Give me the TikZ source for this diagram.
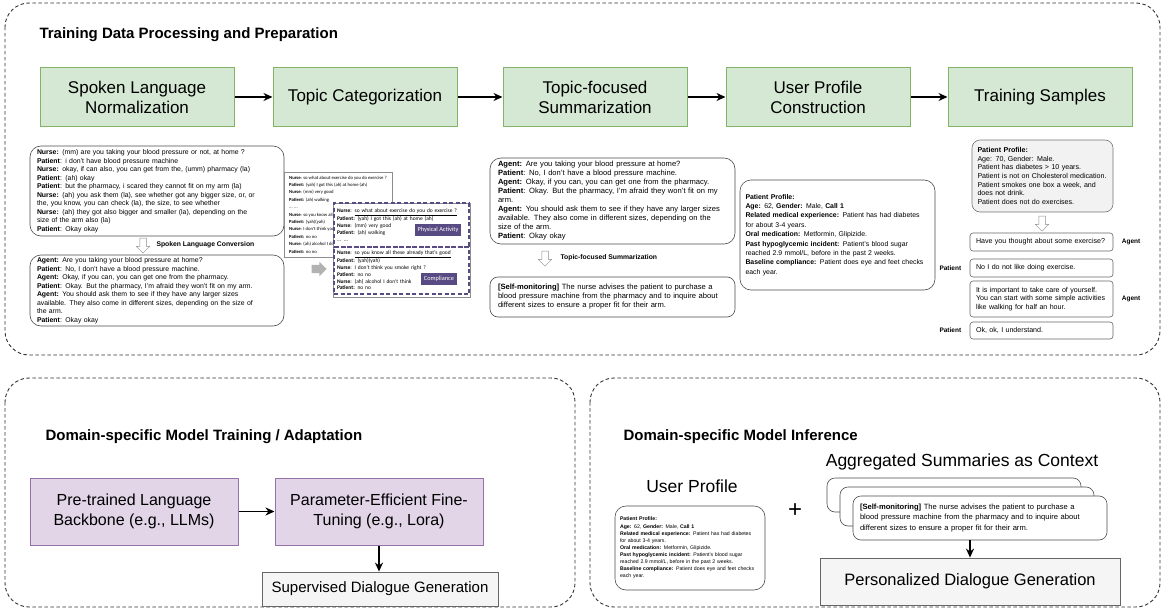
\documentclass[tikz,border=0pt]{standalone}
\usepackage{fontspec}
\setmainfont{Liberation Sans}
\newfontfamily\calibrifont{Carlito}
\usetikzlibrary{arrows.meta, positioning, shapes.arrows, calc}
\definecolor{stepFill}{HTML}{D5E8D4}
\definecolor{stepLine}{HTML}{82B366}
\definecolor{tuneFill}{HTML}{E1D5E7}
\definecolor{tuneLine}{HTML}{9673A6}
\definecolor{genFill}{HTML}{F5F5F5}
\definecolor{genLine}{HTML}{666666}
\definecolor{topicInk}{HTML}{584A82}
\definecolor{panelLine}{HTML}{333333}
\definecolor{cardFill}{HTML}{F2F2F2}
\newcommand{\smalltxt}{\fontsize{6.9}{8.5}\selectfont}
\newcommand{\dashsep}{\par\noindent\leaders\hbox to 1.6pt{\hss\rule[0.5ex]{0.9pt}{0.35pt}\hss}\hskip 0pt plus 1fill\par\noindent}
\newcommand{\profileText}{%
  \textbf{Patient Profile:}\dashsep
  \textbf{Age:} 62, \textbf{Gender:} Male, \textbf{Call 1}\dashsep
  \textbf{Related medical experience:} Patient has had diabetes\\for about 3-4 years.\\
  \textbf{Oral medication:} Metformin, Glipizide.\\
  \textbf{Past hypoglycemic incident:} Patient's blood sugar\\reached 2.9 mmol/L, before in the past 2 weeks.\\
  \textbf{Baseline compliance:} Patient does eye and feet checks\\each year.}
\tikzset{
  panel/.style={draw=panelLine, line width=0.9pt, dash pattern=on 3.5pt off 2.5pt, rounded corners=24pt},
  panelTitle/.style={font=\fontsize{15}{18}\selectfont\bfseries, anchor=west},
  stepBox/.style={rectangle, draw=stepLine, fill=stepFill, line width=1pt, align=center,
                  font=\fontsize{17}{20}\selectfont, minimum width=184pt, minimum height=58pt},
  tuneBox/.style={rectangle, draw=tuneLine, fill=tuneFill, line width=1pt, align=center,
                  font=\fontsize{16}{20}\selectfont, minimum width=208pt, minimum height=67pt},
  genBox/.style={rectangle, draw=genLine, fill=genFill, line width=0.8pt, align=center,
                 font=\fontsize{16.5}{20}\selectfont, minimum height=34pt},
  flowArrow/.style={-{Stealth[length=9pt, width=8pt]}, line width=1.5pt},
  talkBox/.style={rectangle, rounded corners=11pt, draw=black!70, line width=0.6pt, fill=white,
                  align=left, font=\smalltxt, inner sep=0pt},
  hollowArrow/.style={single arrow, draw=black!45, fill=white, line width=0.5pt, inner sep=3pt,
                      single arrow head extend=3.5pt, minimum height=15pt, rotate=-90},
  stepNote/.style={font=\fontsize{6.8}{8}\selectfont\bfseries, anchor=west},
  scriptCard/.style={rectangle, draw=black!45, fill=white, line width=0.6pt, align=left,
                     font=\calibrifont\fontsize{4.7}{7.4}\selectfont, inner sep=0pt},
  topicFrame/.style={rectangle, draw=topicInk, dash pattern=on 4pt off 2.5pt, line width=1.1pt,
                     align=left, font=\calibrifont\fontsize{5.5}{6.8}\selectfont, inner sep=0pt},
  topicTag/.style={fill=topicInk, text=white, font=\calibrifont\fontsize{6.3}{7}\selectfont,
                   inner xsep=3pt, minimum height=11pt},
  sampleCard/.style={rectangle, rounded corners=8pt, draw=black!55, fill=cardFill, line width=0.6pt,
                     align=left, font=\fontsize{7.1}{8.6}\selectfont, inner sep=0pt},
  turnBox/.style={rectangle, rounded corners=3pt, draw=black!60, fill=white, line width=0.6pt,
                  minimum width=143pt, text width=131pt, align=left,
                  font=\fontsize{7.1}{8.4}\selectfont, inner sep=0pt},
  speaker/.style={font=\fontsize{6.5}{7}\selectfont\bfseries},
  stackBox/.style={rectangle, rounded corners=8pt, draw=black!70, fill=white, line width=0.6pt,
                   minimum width=254pt},
}
\begin{document}
\begin{tikzpicture}[x=1pt, y=-1pt, font=\smalltxt]
  \useasboundingbox (0,0) rectangle (1165,610);
  \draw[panel] (5,3) rectangle (1160,355);
  \draw[panel] (5,378) rectangle (575,607);
  \draw[panel] (590,378) rectangle (1160,607);

  \node[panelTitle] (prepTitle) at (36,35) {Training Data Processing and Preparation};
  \node[stepBox, minimum width=194pt] (spoken) at (137,97) {Spoken Language\\Normalization};
  \node[stepBox] (topics) at (365,97) {Topic Categorization};
  \node[stepBox] (summ) at (595,97) {Topic-focused\\Summarization};
  \node[stepBox] (upc) at (818,97) {User Profile\\Construction};
  \node[stepBox] (samples) at (1040,97) {Training Samples};
  \draw[flowArrow] (spoken) -- (topics);
  \draw[flowArrow] (topics) -- (summ);
  \draw[flowArrow] (summ) -- (upc);
  \draw[flowArrow] (upc) -- (samples);

  % spoken language normalization
  \node[talkBox, minimum width=254pt, minimum height=90pt, text width=240pt] (rawTalk) at (157,191)
    {\textbf{Nurse:} (mm) are you taking your blood pressure or not, at home ?\\
     \textbf{Patient}: i don't have blood pressure machine\\
     \textbf{Nurse:} okay, if can also, you can get from the, (umm) pharmacy (la)\\
     \textbf{Patient}: (ah) okay\\
     \textbf{Patient}: but the pharmacy, i scared they cannot fit on my arm (la)\\
     \textbf{Nurse:} (ah) you ask them (la), see whether got any bigger size, or, or\\
     the, you know, you can check (la), the size, to see whether\\
     \textbf{Nurse:} (ah) they got also bigger and smaller (la), depending on the\\
     size of the arm also (la)\\
     \textbf{Patient}: Okay okay};
  \node[hollowArrow] (convArrow) at (143,244) {};
  \node[stepNote] (convNote) at (153,245) {Spoken Language Conversion};
  \node[talkBox, minimum width=254pt, minimum height=71pt, text width=240pt] (normTalk) at (157,290.5)
    {\textbf{Agent:} Are you taking your blood pressure at home?\\
     \textbf{Patient}: No, I don't have a blood pressure machine.\\
     \textbf{Agent:} Okay, if you can, you can get one from the pharmacy.\\
     \textbf{Patient}: Okay. But the pharmacy, I'm afraid they won't fit on my arm.\\
     \textbf{Agent:} You should ask them to see if they have any larger sizes\\
     available. They also come in different sizes, depending on the size of\\
     the arm.\\
     \textbf{Patient}: Okay okay};

  % topic categorization
  \node[scriptCard, minimum width=108pt, minimum height=85pt] (allTopics) at (338,214.5)
    {\textbf{Nurse}: so what about exercise do you do exercise ?\\
     \textbf{Patient:} (yah) I got this (ah) at home (ah)\\
     \textbf{Nurse}: (mm) very good\\
     \textbf{Patient:} (ah) walking\\
     ... ...\\
     \textbf{Nurse}: so you know all these already that's good\\
     \textbf{Patient:} (yah)(yah)\\
     \textbf{Nurse}: I don't think you smoke right ?\\
     \textbf{Patient:} no no\\
     \textbf{Nurse}: (ah) alcohol I don't think\\
     \textbf{Patient:} no no};
  \node[single arrow, fill=black!30, inner sep=4pt, single arrow head extend=3pt,
        minimum height=15pt] (topicArrow) at (317,269) {};
  \node[scriptCard, minimum width=137pt, minimum height=94pt] (splitTopics) at (401.5,250) {};
  \node[topicFrame, minimum width=135pt, minimum height=44pt, text width=129pt] (exerciseTopic) at (401.5,225)
    {\textbf{Nurse}: \underline{so what about exercise do you do exercise ?}\\
     \textbf{Patient:} (yah) I got this (ah) at home (ah)\\
     \textbf{Nurse}: (mm) very good\\
     \textbf{Patient:} (ah) walking\\
     ... ...};
  \node[topicFrame, minimum width=135pt, minimum height=47pt, text width=129pt] (habitTopic) at (401.5,270.5)
    {\textbf{Nurse}: \underline{so you know all these already that's good}\\
     \textbf{Patient:} (yah)(yah)\\
     \textbf{Nurse}: I don't think you smoke right ?\\
     \textbf{Patient:} no no\\
     \textbf{Nurse}: (ah) alcohol I don't think\\
     \textbf{Patient:} no no};
  \node[topicTag] (exerciseTag) at (438,230) {Physical Activity};
  \node[topicTag] (habitTag) at (439,279) {Compliance};

  % topic-focused summarization
  \node[talkBox, minimum width=245pt, minimum height=86pt, text width=229pt,
        font=\fontsize{7.6}{9}\selectfont] (topicTalk) at (612.5,201)
    {\textbf{Agent:} Are you taking your blood pressure at home?\\
     \textbf{Patient}: No, I don't have a blood pressure machine.\\
     \textbf{Agent:} Okay, if you can, you can get one from the pharmacy.\\
     \textbf{Patient}: Okay. But the pharmacy, I'm afraid they won't fit on my\\
     arm.\\
     \textbf{Agent:} You should ask them to see if they have any larger sizes\\
     available. They also come in different sizes, depending on the\\
     size of the arm.\\
     \textbf{Patient}: Okay okay};
  \node[hollowArrow] (sumArrow) at (545,257) {};
  \node[stepNote] (sumNote) at (557,258) {Topic-focused Summarization};
  \node[talkBox, rounded corners=8pt, minimum width=245pt, minimum height=40pt, text width=229pt,
        font=\fontsize{7.6}{9}\selectfont] (selfSum) at (612.5,297)
    {\textbf{[Self-monitoring]} The nurse advises the patient to purchase a\\
     blood pressure machine from the pharmacy and to inquire about\\
     different sizes to ensure a proper fit for their arm.};

  % user profile construction
  \node[talkBox, minimum width=195pt, minimum height=110pt, text width=184pt,
        font=\fontsize{6.9}{9.4}\selectfont] (profileCard) at (837.5,235) {\profileText};

  % training samples
  \node[sampleCard, minimum width=141pt, minimum height=72pt, text width=130pt] (sampleProfile) at (1042.5,176)
    {\textbf{Patient Profile:}\\
     Age: 70, Gender: Male.\\
     Patient has diabetes > 10 years.\\
     Patient is not on Cholesterol medication.\\
     Patient smokes one box a week, and\\
     does not drink.\\
     Patient does not do exercises.};
  \node[hollowArrow] (sampleArrow) at (1042,222) {};
  \node[turnBox, minimum height=18pt] (turnA) at (1041.5,242) {Have you thought about some exercise?};
  \node[turnBox, minimum height=18pt] (turnB) at (1041.5,268) {No I do not like doing exercise.};
  \node[turnBox, minimum height=36pt] (turnC) at (1041.5,299)
    {It is important to take care of yourself.\\
     You can start with some simple activities\\
     like walking for half an hour.};
  \node[turnBox, minimum height=17pt] (turnD) at (1041.5,330.5) {Ok, ok, I understand.};
  \node[speaker, right=5pt of turnA] (agentA) {Agent};
  \node[speaker, left=5pt of turnB] (patientB) {Patient};
  \node[speaker, right=5pt of turnC] (agentC) {Agent};
  \node[speaker, left=5pt of turnD] (patientD) {Patient};

  % model training
  \node[panelTitle] (trainTitle) at (42,437) {Domain-specific Model Training / Adaptation};
  \node[tuneBox] (backbone) at (134,511.5) {Pre-trained Language\\Backbone (e.g., LLMs)};
  \node[tuneBox] (peft) at (379,511.5) {Parameter-Efficient Fine-\\Tuning (e.g., Lora)};
  \node[genBox, minimum width=236pt, font=\fontsize{15}{18}\selectfont] (sdg) at (380,589) {Supervised Dialogue Generation};
  \draw[flowArrow] (backbone) -- (peft);
  \draw[flowArrow] (peft.south) -- (peft.south |- sdg.north);

  % model inference
  \node[panelTitle] (inferTitle) at (620,437) {Domain-specific Model Inference};
  \node[font=\fontsize{17.5}{20}\selectfont] (ctxLabel) at (962,462) {Aggregated Summaries as Context};
  \node[font=\fontsize{17.5}{20}\selectfont] (upLabel) at (692,486) {User Profile};
  \node[talkBox, minimum width=150pt, minimum height=84pt, text width=140pt,
        font=\fontsize{5.2}{7.1}\selectfont] (upCard) at (690,548) {\profileText};
  \node[font=\fontsize{24}{24}\selectfont] (plus) at (795,511) {+};
  \node[stackBox, minimum height=34pt] (ctxBack) at (954,495) {};
  \node[stackBox, minimum height=39pt] (ctxMid) at (967,506.5) {};
  \node[stackBox, minimum height=44pt, text width=240pt, align=left,
        font=\fontsize{7.6}{10.5}\selectfont] (ctxFront) at (980,518)
    {\textbf{[Self-monitoring]} The nurse advises the patient to purchase a\\
     blood pressure machine from the pharmacy and to inquire about\\
     different sizes to ensure a proper fit for their arm.};
  \node[genBox, minimum width=300pt, minimum height=47pt] (pdg) at (970,581.5) {Personalized Dialogue Generation};
  \draw[flowArrow] (pdg.north |- ctxFront.south) -- (pdg.north);
\end{tikzpicture}
\end{document}
